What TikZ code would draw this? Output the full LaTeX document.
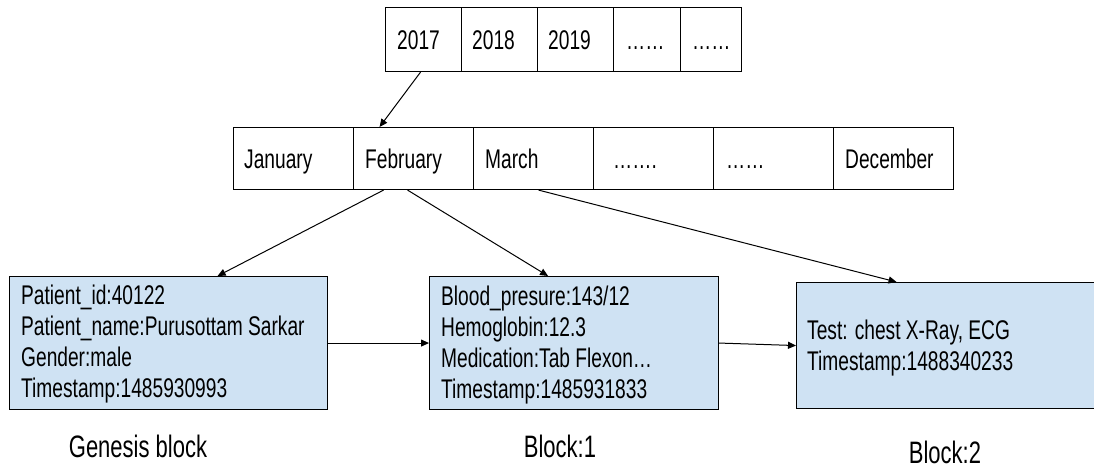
\documentclass[tikz,border=0pt]{standalone}
\usepackage{fontspec}
\setmainfont{Liberation Sans}
\newfontfamily\narrowsans[FakeStretch=0.71]{Liberation Sans}
\usetikzlibrary{arrows.meta,calc}

\definecolor{blockfill}{HTML}{CFE2F3}

\tikzset{
  cellbox/.style={draw=black, line width=1.1pt, inner sep=0pt, anchor=north west},
  celltext/.style={anchor=west, inner sep=0pt, text height=19.3pt, text depth=0pt,
    font={\narrowsans\fontsize{27}{31}\selectfont}},
  blockbox/.style={draw=black, line width=1.1pt, fill=blockfill, inner sep=0pt, anchor=north west},
  % the base anchor of a multi-line node sits on its last line
  blocktext/.style={anchor=base west, inner sep=0pt, align=left,
    font={\narrowsans\fontsize{27}{31}\selectfont}},
  caption/.style={anchor=base, inner sep=0pt, font={\narrowsans\fontsize{31}{34}\selectfont}},
  arr/.style={line width=1pt, -{Triangle[length=8pt,width=7pt]}}
}

\begin{document}
\begin{tikzpicture}[x=1pt,y=-1pt]
  \clip (0,0) rectangle (1094,470);
  \fill[white] (0,0) rectangle (1094,470);

  % row of years
  \foreach \n/\x/\w/\p/\t in {y2017/385/76/12/2017, y2018/461/76/11/2018, y2019/537/76/11/2019,
                              ydotsa/613/67/13/……, ydotsb/680/61/12/……} {
    \node[cellbox, minimum width=\w, minimum height=64] (\n) at (\x,7) {};
    \node[celltext] (\n-t) at ([xshift=\p pt]\n.west) {\t};
  }

  % row of months
  \foreach \n/\x/\p/\t in {jan/233/11/January, feb/353/12/February, mar/473/12/March,
                           mdotsa/593/20/……., mdotsb/713/13/……, dec/833/12/December} {
    \node[cellbox, minimum width=120, minimum height=62] (\n) at (\x,127) {};
    \node[celltext] (\n-t) at ([xshift=\p pt]\n.west) {\t};
  }

  % blocks of the chain
  \node[blockbox, minimum width=318, minimum height=133] (genesis) at (9,276) {};
  \node[blocktext] (genesis-t) at ([shift={(12,121)}]genesis.north west)
    {Patient\_id:40122\\Patient\_name:Purusottam Sarkar\\Gender:male\\Timestamp:1485930993};

  \node[blockbox, minimum width=289, minimum height=133] (block1) at (429,276) {};
  \node[blocktext] (block1-t) at ([shift={(12,122)}]block1.north west)
    {Blood\_presure:143/12\\Hemoglobin:12.3\\Medication:Tab Flexon…\\Timestamp:1485931833};

  \node[blockbox, minimum width=340, minimum height=126] (block2) at (796,282) {};
  \node[blocktext] (block2-t) at ([shift={(11,88)}]block2.north west)
    {Test: chest X-Ray, ECG\\Timestamp:1488340233};

  % captions
  \node[caption] (cap0) at (138,457) {Genesis block};
  \node[caption] (cap1) at (560,457) {Block:1};
  \node[caption] (cap2) at (945,463) {Block:2};

  % connectors
  \draw[arr] ([xshift=-3pt]y2017.south) -- ([xshift=-34pt]feb.north);
  \draw[arr] ([xshift=-30pt]feb.south) -- ([xshift=49pt]genesis.north);
  \draw[arr] ([xshift=-6pt]feb.south) -- ([xshift=-26pt]block1.north);
  \draw[arr] ([xshift=5pt]mar.south) -- ([xshift=-70pt]block2.north);
  \draw[arr] (genesis.east) -- (block1.west);
  \draw[arr] (block1.east) -- (block2.west);
\end{tikzpicture}
\end{document}
